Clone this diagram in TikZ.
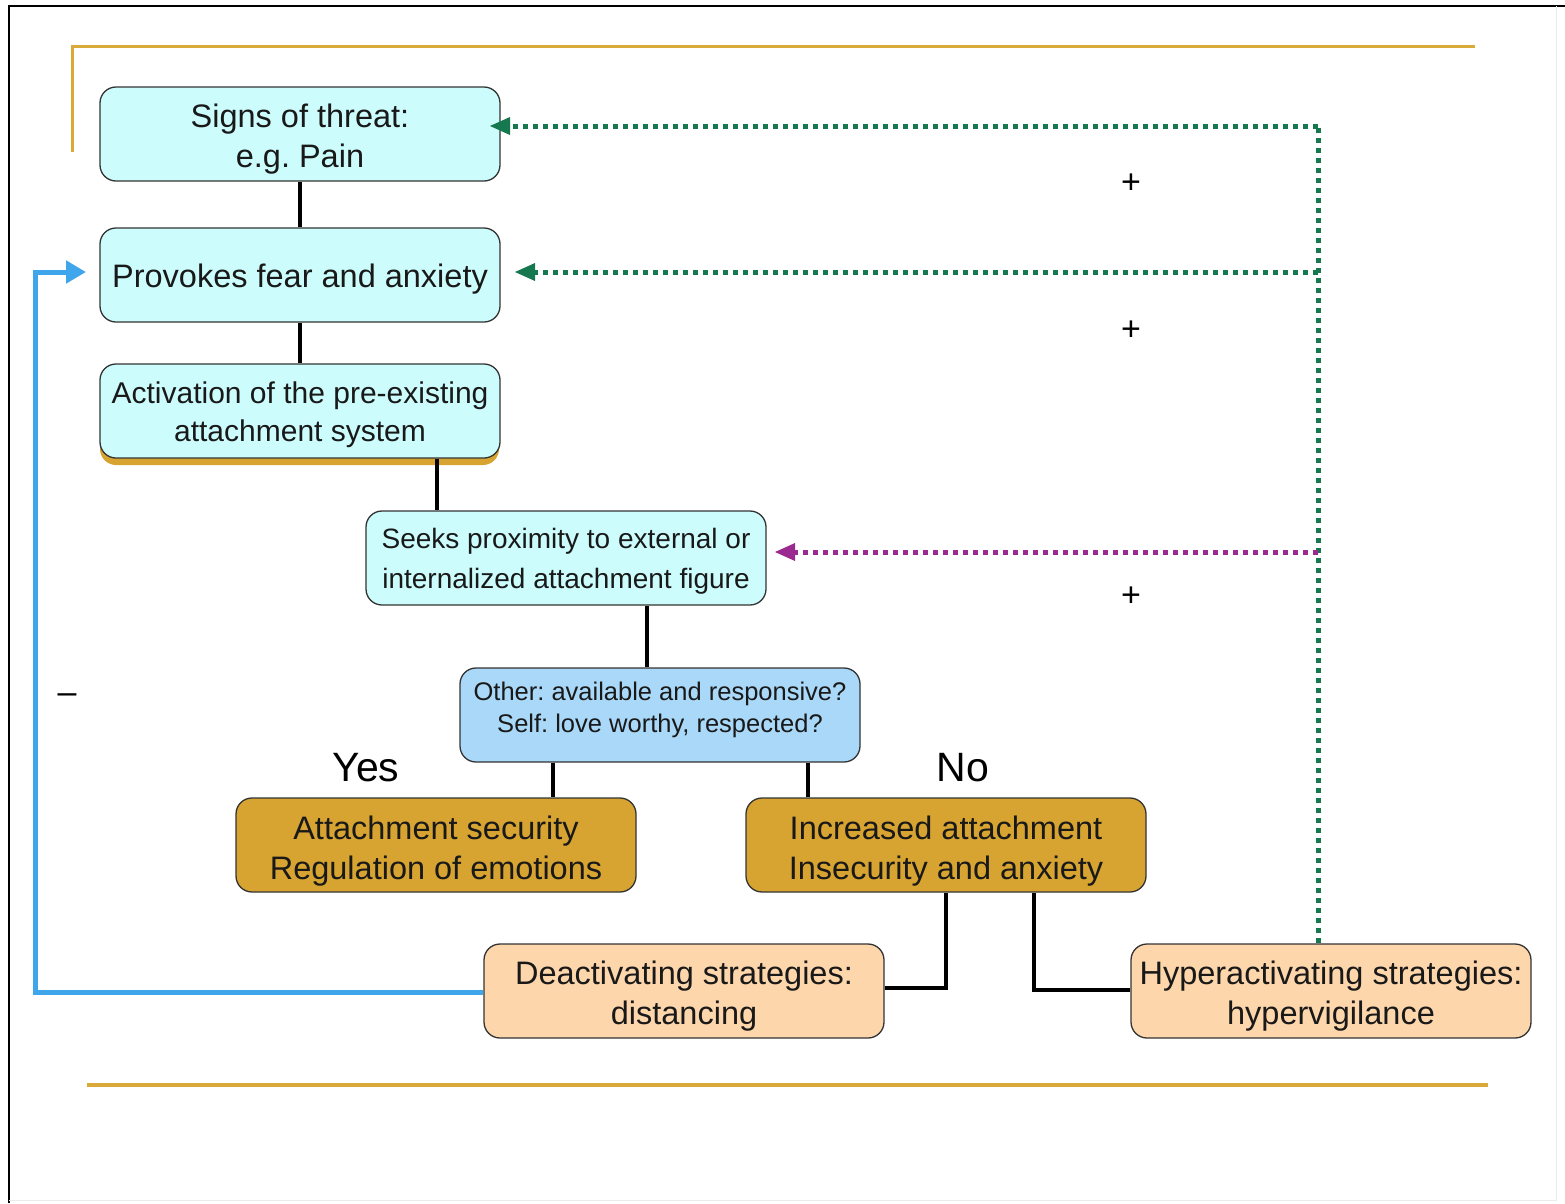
\documentclass[tikz,border=0pt]{standalone}
\usepackage{fontspec}
\setmainfont{Liberation Sans}
\usetikzlibrary{arrows.meta}
\frenchspacing
\definecolor{cyanbox}{HTML}{CCFCFC}
\definecolor{bluebox}{HTML}{A9D8F8}
\definecolor{goldbox}{HTML}{D8A431}
\definecolor{peachbox}{HTML}{FDD6AC}
\definecolor{goldline}{HTML}{D9A93A}
\definecolor{fbgreen}{HTML}{16784F}
\definecolor{fbmag}{HTML}{9A2A90}
\definecolor{fbblue}{HTML}{3FA6EC}
\tikzset{
  box/.style={draw=black!80, line width=1.3pt, rounded corners=16pt, minimum width=400pt, minimum height=94pt, inner sep=0pt},
  txt/.style={inner sep=0pt, align=center, text=black!90},
  link/.style={line width=4pt, black},
  greendot/.style={draw=fbgreen, line width=5pt, dash pattern=on 5pt off 5pt},
  magdot/.style={draw=fbmag, line width=5pt, dash pattern=on 5pt off 5pt},
  sign/.style={font=\fontsize{34}{36}\selectfont},
  big/.style={font=\fontsize{32.5}{40}\selectfont},
}
\begin{document}
\begin{tikzpicture}[x=1pt,y=-1pt]
\useasboundingbox (0,0) rectangle (1565,1203);
% frame
\draw[line width=2pt, black] (9,1203) -- (9,6) -- (1565,6);
\draw[line width=1pt, black!8] (1556,6) -- (1556,1200) -- (9,1200);
% gold lines
\draw[goldline, line width=3pt] (72,152) -- (72,46) -- (1475,46);
\draw[goldline, line width=4pt] (87,1085) -- (1488,1085);

% boxes
\node[box, fill=cyanbox] (sig) at (300,134) {};
\node[txt, big] (sigt) at ([yshift=-5pt]sig.center) {Signs of threat:\\e.g. Pain};
\node[box, fill=cyanbox] (prov) at (300,275) {};
\node[txt, big] (provt) at ([yshift=-4pt]prov.center) {Provokes fear and anxiety};
\fill[goldbox, rounded corners=16pt] (100,372) rectangle (499,465);
\node[box, fill=cyanbox] (act) at (300,411) {};
\node[txt, font=\fontsize{30}{38}\selectfont] (actt) at ([yshift=-4pt]act.center) {Activation of the pre-existing\\attachment system};
\node[box, fill=cyanbox] (seek) at (566,558) {};
\node[txt, font=\fontsize{28}{40}\selectfont] (seekt) at ([yshift=-3pt]seek.center) {Seeks proximity to external or\\internalized attachment figure};
\node[box, fill=bluebox] (oth) at (660,715) {};
\node[txt, font=\fontsize{25.5}{32}\selectfont] (otht) at ([yshift=5pt]oth.center) {Other: available and responsive?\\Self: love worthy, respected?};
\node[box, fill=goldbox] (sec) at (436,845) {};
\node[txt, big] (sect) at ([yshift=-6pt]sec.center) {Attachment security\\Regulation of emotions};
\node[box, fill=goldbox] (inc) at (946,845) {};
\node[txt, big] (inct) at ([yshift=-6pt]inc.center) {Increased attachment\\Insecurity and anxiety};
\node[box, fill=peachbox] (deact) at (684,991) {};
\node[txt, big] (deactt) at ([yshift=-5pt]deact.center) {Deactivating strategies:\\distancing};
\node[box, fill=peachbox] (hyper) at (1331,991) {};
\node[txt, big] (hypert) at ([yshift=-5pt]hyper.center) {Hyperactivating strategies:\\hypervigilance};

% links
\draw[link] (sig.south) -- (prov.north);
\draw[link] (prov.south) -- (act.north);
\draw[link] (act.south -| 437,0) -- (seek.north -| 437,0);
\draw[link] (seek.south -| 647,0) -- (oth.north -| 647,0);
\draw[link] (oth.south -| 553,0) -- (sec.north -| 553,0);
\draw[link] (oth.south -| 808,0) -- (inc.north -| 808,0);
\draw[link] (inc.south -| 946,0) -- (946,988) -- (deact.east |- 0,988);
\draw[link] (inc.south -| 1034,0) -- (1034,990) -- (hyper.west |- 0,990);

% labels
\node[font=\fontsize{41}{44}\selectfont] (yes) at (366,768) {Yes};
\node[font=\fontsize{41}{44}\selectfont] (no) at (963,768) {No};
\node[sign] (p1) at (1131,184) {+};
\node[sign] (p2) at (1131,331) {+};
\node[sign] (p3) at (1131,597) {+};
\node[sign] (m1) at (67,699) {\textendash};

% feedback: blue
\coordinate (bl1) at (35,992);
\coordinate (bl2) at (35,272);
\draw[fbblue, line width=5pt, -{Triangle[length=20pt,width=22pt]}] (deact.west |- 0,992) -- (bl1) -- (bl2) -- (86,272);

% feedback: green / magenta
\coordinate (gtop) at (1318,126);
\coordinate (gmid) at (1318,272);
\coordinate (gmag) at (1318,552);
\draw[greendot] (hyper.north -| 1318,0) -- (gtop);
\draw[greendot] (gtop) -- (510,126);
\fill[fbgreen] (490,126) -- (510,117) -- (510,135) -- cycle;
\draw[greendot] (gmid) -- (535,272);
\fill[fbgreen] (515,272) -- (535,263) -- (535,281) -- cycle;
\draw[magdot] (gmag) -- (795,552);
\fill[fbmag] (775,552) -- (795,543) -- (795,561) -- cycle;
\end{tikzpicture}
\end{document}
